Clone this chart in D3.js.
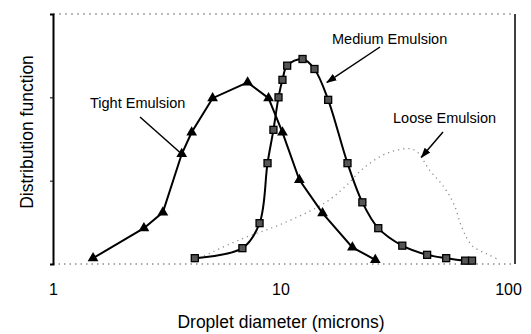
<!DOCTYPE html>
<html>
<head>
<meta charset="utf-8">
<script src="https://cdn.jsdelivr.net/npm/d3@7/dist/d3.min.js"></script>
<style>
  html, body { margin: 0; padding: 0; background: #fff; }
  text { font-family: "Liberation Sans", Arial, sans-serif; fill: #000; }
</style>
</head>
<body>
<svg id="chart" width="531" height="334"></svg>
<script>
// ---- data (droplet diameter in microns, distribution function) ----
const tightX  = [1.50, 2.51, 3.04, 3.68, 4.07, 5.03, 7.17, 8.86, 10.2, 12.1, 15.3, 20.7, 26.1];
const tightY  = [0.07, 0.43, 0.62, 1.32, 1.58, 1.99, 2.18, 1.99, 1.58, 1.01, 0.61, 0.20, 0.05];

const mediumX = [4.2, 6.8, 8.09, 8.77, 9.31, 9.8, 10.2, 10.7, 12.5, 14.1, 16.2, 19.7, 22.9, 26.9, 34.3, 44.1, 53.5, 64.8, 69.5];
const mediumY = [0.07, 0.19, 0.49, 1.21, 1.61, 2.00, 2.21, 2.38, 2.46, 2.34, 1.97, 1.21, 0.74, 0.43, 0.22, 0.11, 0.07, 0.04, 0.04];

const looseX  = [4.4, 6.6, 9.9, 15.6, 19.1, 23.4, 30.1, 38.7, 45.1, 52.4, 58.0, 62.9, 69.5, 80.9, 91.4];
const looseY  = [0.07, 0.29, 0.47, 0.73, 0.92, 1.16, 1.34, 1.37, 1.13, 0.92, 0.71, 0.43, 0.22, 0.12, 0.05];

const xTickValues = [1, 10, 100];
const xTickLabels = ["1", "10", "100"];
const yTickValues = [0, 1, 2, 3];

const xTitle = "Droplet diameter (microns)";
const yTitle = "Distribution function";

// annotations: label + arrow target in data coordinates
const annoLabels = ["Tight Emulsion", "Medium Emulsion", "Loose Emulsion"];
const annoTargetX = [3.68, 16.0, 41.6];
const annoTargetY = [1.32, 2.18, 1.28];

// ---- layout ----
const svg = d3.select("#chart");
const L = 53, R = 515, T = 14, B = 264;

const x = d3.scaleLog().domain([1, 100]).range([L, 508]);
const y = d3.scaleLinear().domain([0, 3]).range([B, T]);

const defs = svg.append("defs");
defs.append("marker")
  .attr("id", "arrow").attr("viewBox", "0 0 10 10")
  .attr("refX", 9).attr("refY", 5)
  .attr("markerWidth", 7).attr("markerHeight", 7)
  .attr("orient", "auto")
  .append("path").attr("d", "M0,1.5 L10,5 L0,8.5 Z").attr("fill", "#000");

// frame: top and bottom dotted, right solid
svg.append("line").attr("x1", L).attr("x2", R).attr("y1", T).attr("y2", T)
  .attr("stroke", "#777").attr("stroke-width", 1).attr("stroke-dasharray", "2,4");
svg.append("line").attr("x1", L).attr("x2", R).attr("y1", B).attr("y2", B)
  .attr("stroke", "#555").attr("stroke-width", 1).attr("stroke-dasharray", "1.5,4");
svg.append("line").attr("x1", R).attr("x2", R).attr("y1", T).attr("y2", B)
  .attr("stroke", "#000").attr("stroke-width", 1.5);

// left axis
const yAxis = d3.axisLeft(y).tickValues(yTickValues).tickSize(3).tickFormat("");
const gy = svg.append("g").attr("transform", `translate(${L},0)`).call(yAxis);
gy.select(".domain").attr("stroke", "#000").attr("stroke-width", 2);
gy.selectAll(".tick line").attr("stroke", "#000").attr("stroke-width", 1);

// bottom axis labels only
const xAxis = d3.axisBottom(x).tickValues(xTickValues).tickSize(0)
  .tickFormat((d, i) => xTickLabels[i]);
const gx = svg.append("g").attr("transform", `translate(0,${B})`).call(xAxis);
gx.select(".domain").remove();
gx.selectAll(".tick text").attr("dy", 0).attr("y", 31)
  .style("font-size", "16px").style("font-family", "Liberation Sans, Arial, sans-serif");

// axis titles
svg.append("text").attr("x", 281).attr("y", 328).attr("text-anchor", "middle")
  .style("font-size", "17.5px").text(xTitle);
svg.append("text").attr("transform", "translate(33,132) rotate(-90)")
  .attr("text-anchor", "middle").style("font-size", "17.5px").text(yTitle);

const zip = (a, b) => a.map((v, i) => [v, b[i]]);

// loose emulsion (faint dotted)
svg.append("path").datum(zip(looseX, looseY))
  .attr("d", d3.line().x(d => x(d[0])).y(d => y(d[1])).curve(d3.curveCatmullRom))
  .attr("fill", "none").attr("stroke", "#8a8a8a").attr("stroke-width", 1.3)
  .attr("stroke-dasharray", "1.2,4");

// tight emulsion
const tight = zip(tightX, tightY);
svg.append("path").datum(tight).attr("d", d3.line().x(d => x(d[0])).y(d => y(d[1])))
  .attr("fill", "none").attr("stroke", "#000").attr("stroke-width", 2);
svg.append("g").selectAll("path").data(tight).join("path")
  .attr("transform", d => `translate(${x(d[0])},${y(d[1])})`)
  .attr("d", d3.symbol(d3.symbolTriangle, 50))
  .attr("fill", "#000");

// medium emulsion
const medium = zip(mediumX, mediumY);
svg.append("path").datum(medium)
  .attr("d", d3.line().x(d => x(d[0])).y(d => y(d[1])).curve(d3.curveCatmullRom))
  .attr("fill", "none").attr("stroke", "#000").attr("stroke-width", 2);
svg.append("g").selectAll("rect").data(medium).join("rect")
  .attr("x", d => x(d[0]) - 3.5).attr("y", d => y(d[1]) - 3.5)
  .attr("width", 7).attr("height", 7)
  .attr("fill", "#555").attr("stroke", "#000").attr("stroke-width", 1.3);

// annotations
const annoText = [[90, 108], [332, 44], [393, 123]];
const annoStart = [[140, 117], [380, 47], [443, 132]];
annoLabels.forEach((lab, i) => {
  svg.append("text").attr("x", annoText[i][0]).attr("y", annoText[i][1])
    .style("font-size", "14.5px").text(lab);
  svg.append("line")
    .attr("x1", annoStart[i][0]).attr("y1", annoStart[i][1])
    .attr("x2", x(annoTargetX[i])).attr("y2", y(annoTargetY[i]))
    .attr("stroke", "#000").attr("stroke-width", 1.5)
    .attr("marker-end", i === 0 ? null : "url(#arrow)");
});
</script>
</body>
</html>
